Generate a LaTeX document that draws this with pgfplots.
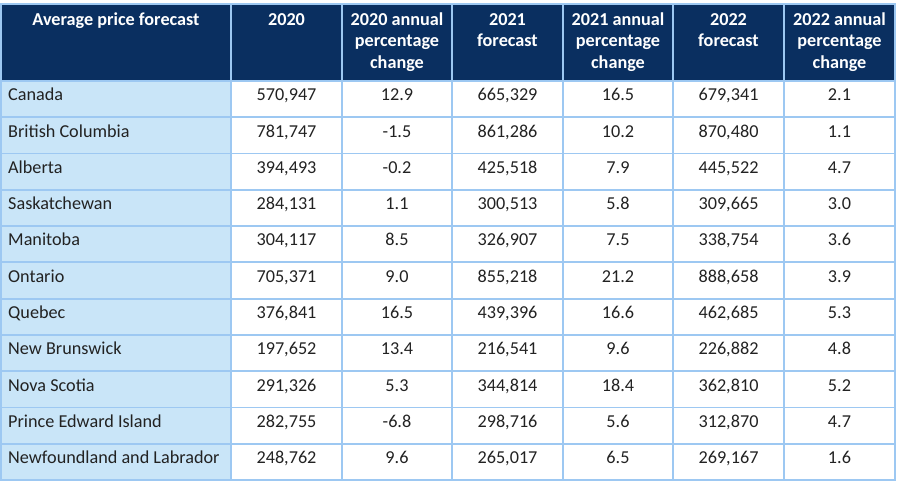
\documentclass[border=0pt]{standalone}
\usepackage{pgfplots}
\usepackage{pgfplotstable}
\usepackage{fontspec}
\setmainfont{Carlito}
\pgfplotsset{compat=1.18}
\definecolor{navy}{HTML}{0A2F60}
\definecolor{bordercol}{HTML}{9DC8F2}
\definecolor{firstcol}{HTML}{C9E5F8}
\definecolor{txt}{HTML}{222222}

\pgfplotstableread[col sep=comma]{
row,name,p20,c20,p21,c21,p22,c22
0,Canada,570947,12.9,665329,16.5,679341,2.1
1,British Columbia,781747,-1.5,861286,10.2,870480,1.1
2,Alberta,394493,-0.2,425518,7.9,445522,4.7
3,Saskatchewan,284131,1.1,300513,5.8,309665,3.0
4,Manitoba,304117,8.5,326907,7.5,338754,3.6
5,Ontario,705371,9.0,855218,21.2,888658,3.9
6,Quebec,376841,16.5,439396,16.6,462685,5.3
7,New Brunswick,197652,13.4,216541,9.6,226882,4.8
8,Nova Scotia,291326,5.3,344814,18.4,362810,5.2
9,Prince Edward Island,282755,-6.8,298716,5.6,312870,4.7
10,Newfoundland and Labrador,248762,9.6,265017,6.5,269167,1.6
}\datatable

\newcommand{\cellfont}{\fontsize{18.2}{21}\selectfont}
\pgfplotsset{
  pricecol/.style={only marks, mark=none, point meta=explicit,
    nodes near coords={\pgfmathprintnumber[fixed, precision=0, 1000 sep={,}, assume math mode=true]{\pgfplotspointmeta}}},
  pctcol/.style={only marks, mark=none, point meta=explicit,
    nodes near coords={\pgfmathprintnumber[fixed, fixed zerofill, precision=1, assume math mode=true]{\pgfplotspointmeta}}},
}

\begin{document}
\begin{tikzpicture}
\begin{axis}[
  x=1pt, y=1pt, y dir=reverse,
  xmin=1, xmax=895, ymin=4, ymax=480,
  clip=false, axis on top,
  xtick={231,342,452,563,673,784},
  ytick={81,117.27,153.54,189.81,226.08,262.35,298.62,334.89,371.16,407.43,443.7},
  xticklabels={}, yticklabels={},
  ticklabel style={inner sep=0pt, outer sep=0pt},
  major tick length=0pt,
  grid=major,
  major grid style={draw=bordercol, line width=1.8pt},
  axis line style={draw=bordercol, line width=1.8pt},
  every node near coord/.style={anchor=base, inner sep=0pt, text=txt, font=\cellfont},
]
\fill[navy] (axis cs:1,4) rectangle (axis cs:895,81);
\fill[firstcol] (axis cs:1,81) rectangle (axis cs:231,480);

% row names
\addplot[only marks, mark=none, point meta=explicit symbolic,
  nodes near coords={\pgfplotspointmeta},
  every node near coord/.append style={anchor=base west}]
  table[x expr=8, y expr=100.9+36.27*\thisrow{row}, meta=name] {\datatable};
\addplot[pricecol] table[x expr=286.5, y expr=100.9+36.27*\thisrow{row}, meta=p20] {\datatable};
\addplot[pctcol]   table[x expr=397,   y expr=100.9+36.27*\thisrow{row}, meta=c20] {\datatable};
\addplot[pricecol] table[x expr=507.5, y expr=100.9+36.27*\thisrow{row}, meta=p21] {\datatable};
\addplot[pctcol]   table[x expr=618,   y expr=100.9+36.27*\thisrow{row}, meta=c21] {\datatable};
\addplot[pricecol] table[x expr=728.5, y expr=100.9+36.27*\thisrow{row}, meta=p22] {\datatable};
\addplot[pctcol]   table[x expr=839.5, y expr=100.9+36.27*\thisrow{row}, meta=c22] {\datatable};

% header
\begin{scope}[every node/.style={anchor=base, inner sep=0pt, text=white, font=\bfseries\cellfont}]
\node at (axis cs:116,25) {Average price forecast};
\node at (axis cs:286.5,25) {2020};
\node at (axis cs:397,25) {2020 annual};
\node at (axis cs:397,46.6) {percentage};
\node at (axis cs:397,68.2) {change};
\node at (axis cs:507.5,25) {2021};
\node at (axis cs:507.5,46.6) {forecast};
\node at (axis cs:618,25) {2021 annual};
\node at (axis cs:618,46.6) {percentage};
\node at (axis cs:618,68.2) {change};
\node at (axis cs:728.5,25) {2022};
\node at (axis cs:728.5,46.6) {forecast};
\node at (axis cs:839.5,25) {2022 annual};
\node at (axis cs:839.5,46.6) {percentage};
\node at (axis cs:839.5,68.2) {change};
\end{scope}
\coordinate (bbA) at (axis cs:0,0);
\coordinate (bbB) at (axis cs:900,485);
\end{axis}
\pgfresetboundingbox
\path (bbA) rectangle (bbB);
\end{tikzpicture}
\end{document}
